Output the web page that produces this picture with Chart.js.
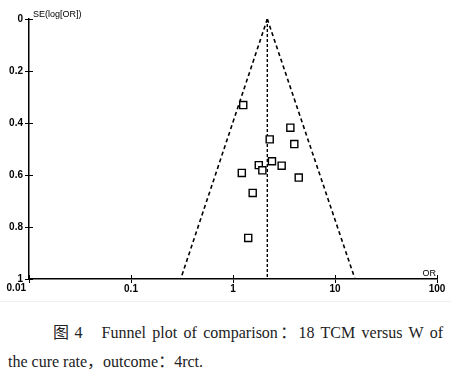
<!DOCTYPE html>
<html>
<head>
<meta charset="utf-8">
<script src="https://cdn.jsdelivr.net/npm/chart.js@4.4.0/dist/chart.umd.min.js"></script>
<style>
body { margin: 0; background: #fff; width: 451px; height: 372px; overflow: hidden; position: relative; }
#wrap { position: absolute; left: 0; top: 0; width: 451px; height: 300px; }
#sep { position: absolute; left: 0; top: 301px; width: 451px; height: 1px; background: #eee; }
.cap { position: absolute; font-family: "Liberation Serif", "DejaVu Serif", "Noto Sans CJK SC", serif; font-size: 16px; color: #222; white-space: nowrap; }
#cap1 { left: 53px; top: 319px; width: 390px; text-align: justify; text-align-last: justify; text-justify: inter-word; }
#cap2 { left: 8px; top: 348px; }
</style>
</head>
<body>
<div id="wrap"><canvas id="funnel" width="451" height="300"></canvas></div>
<div id="sep"></div>
<div class="cap" id="cap1">图&#8201;4&nbsp;&nbsp; Funnel plot of comparison：18 TCM versus W of</div>
<div class="cap" id="cap2">the cure rate，outcome：4rct.</div>
<script>
// studies
const studyOR = [1.26, 3.65, 2.29, 3.99, 2.41, 1.79, 3.00, 1.94, 1.22, 4.41, 1.56, 1.41];
const studySE = [0.331, 0.418, 0.463, 0.481, 0.547, 0.562, 0.564, 0.582, 0.592, 0.610, 0.669, 0.842];

// pooled estimate and 95% funnel limits at SE = 1
const pooledOR = 2.17;
const funnelLowOR = 0.307;
const funnelHighOR = 15.7;

const xTickValues = [0.01, 0.1, 1, 10, 100];
const yTickValues = [0, 0.2, 0.4, 0.6, 0.8, 1];

const points = studyOR.map((v, i) => ({ x: v, y: studySE[i] }));
const tickFont = '"Liberation Sans", Arial, sans-serif';

// bits Chart.js does not draw: inner half of ticks, axis titles, the shifted first x label
const extras = {
  id: 'extras',
  afterDraw(chart) {
    const ctx = chart.ctx;
    const xs = chart.scales.x, ys = chart.scales.y;
    const area = chart.chartArea;
    ctx.save();
    ctx.strokeStyle = '#000';
    ctx.lineWidth = 1;
    ctx.beginPath();
    yTickValues.forEach(v => {
      const py = Math.round(ys.getPixelForValue(v)) + 0.5;
      ctx.moveTo(area.left, py);
      ctx.lineTo(area.left + 4, py);
    });
    xTickValues.forEach(v => {
      const px = Math.round(xs.getPixelForValue(v)) + 0.5;
      ctx.moveTo(px, area.bottom);
      ctx.lineTo(px, area.bottom - 4);
    });
    ctx.stroke();
    ctx.fillStyle = '#000';
    ctx.font = 'bold 10px ' + tickFont;
    ctx.textAlign = 'right';
    ctx.textBaseline = 'top';
    ctx.fillText(String(xTickValues[0]), xs.getPixelForValue(xTickValues[0]) - 3, area.bottom + 4);
    ctx.font = '9px ' + tickFont;
    ctx.textBaseline = 'alphabetic';
    ctx.textAlign = 'left';
    ctx.fillText('SE(log[OR])', area.left + 4, area.top - 2);
    ctx.textAlign = 'right';
    ctx.fillText('OR', area.right - 1, area.bottom - 3);
    ctx.restore();
  }
};

new Chart(document.getElementById('funnel'), {
  type: 'scatter',
  data: {
    datasets: [
      {
        label: 'studies',
        data: points,
        pointStyle: 'rect',
        pointRadius: 5,
        pointHoverRadius: 5,
        borderColor: '#000',
        backgroundColor: '#fff',
        borderWidth: 1.4,
        order: 0
      },
      {
        label: 'lower limit',
        type: 'line',
        data: [{ x: pooledOR, y: 0 }, { x: funnelLowOR, y: 1 }],
        borderColor: '#000',
        borderWidth: 1.6,
        borderDash: [4, 3],
        pointRadius: 0,
        fill: false,
        order: 1
      },
      {
        label: 'upper limit',
        type: 'line',
        data: [{ x: pooledOR, y: 0 }, { x: funnelHighOR, y: 1 }],
        borderColor: '#000',
        borderWidth: 1.6,
        borderDash: [4, 3],
        pointRadius: 0,
        fill: false,
        order: 1
      },
      {
        label: 'pooled',
        type: 'line',
        data: [{ x: pooledOR, y: 0 }, { x: pooledOR, y: 1 }],
        borderColor: '#000',
        borderWidth: 1.4,
        borderDash: [3, 2],
        pointRadius: 0,
        fill: false,
        order: 1
      }
    ]
  },
  options: {
    responsive: false,
    animation: false,
    layout: { padding: { top: 19, right: 14, left: 0, bottom: 0 } },
    plugins: {
      legend: { display: false },
      tooltip: { enabled: false }
    },
    scales: {
      x: {
        type: 'logarithmic',
        min: 0.01,
        max: 100,
        afterBuildTicks(scale) {
          scale.ticks = xTickValues.map(v => ({ value: v }));
        },
        afterFit(scale) { scale.height = 21; },
        grid: { display: true, drawOnChartArea: false, drawTicks: true, tickLength: 4, color: '#000', lineWidth: 1 },
        border: { display: true, color: '#000', width: 1.5 },
        ticks: {
          color: '#000',
          font: { family: tickFont, size: 10, weight: 'bold' },
          padding: 0,
          maxRotation: 0,
          autoSkip: false,
          // first label is drawn by the plugin, shifted left of the axis
          callback: (v, i) => (i === 0 ? '' : String(v))
        }
      },
      y: {
        type: 'linear',
        reverse: true,
        min: 0,
        max: 1,
        afterBuildTicks(scale) {
          scale.ticks = yTickValues.map(v => ({ value: v }));
        },
        afterFit(scale) { scale.width = 29; },
        grid: { display: true, drawOnChartArea: false, drawTicks: true, tickLength: 4, color: '#000', lineWidth: 1 },
        border: { display: true, color: '#000', width: 1.5 },
        ticks: {
          color: '#000',
          font: { family: tickFont, size: 10, weight: 'bold' },
          padding: 2,
          callback: v => String(v)
        }
      }
    }
  },
  plugins: [extras]
});
</script>
</body>
</html>
